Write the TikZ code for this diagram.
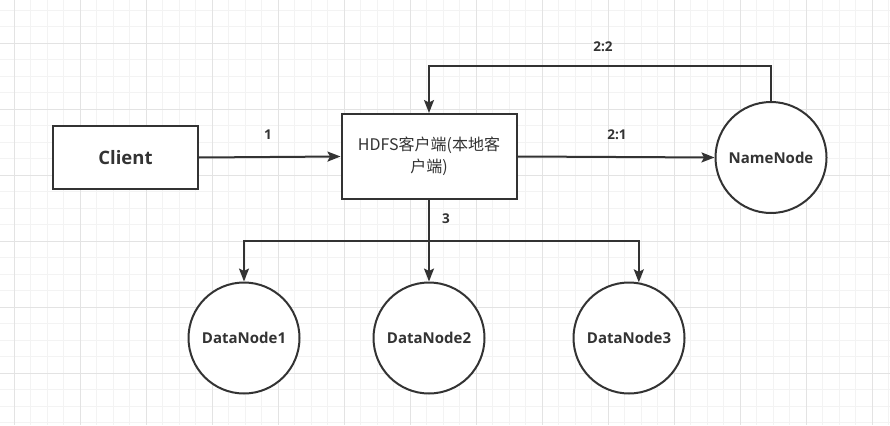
\documentclass[tikz,border=0pt]{standalone}
\usepackage{fontspec}
\setmainfont{Open Sans}
\newfontfamily\cjk{Noto Sans CJK SC}
\usetikzlibrary{arrows.meta}
\definecolor{ink}{HTML}{333333}
\definecolor{gminor}{HTML}{F3F3F3}
\definecolor{gmajor}{HTML}{E3E3E3}
\begin{document}
\begin{tikzpicture}[x=1pt,y=-1pt,
  boxnode/.style={draw=ink, line width=2pt, fill=white, rectangle, inner sep=0pt, text=ink},
  circnode/.style={draw=ink, line width=2pt, fill=white, circle, inner sep=0pt, minimum size=111pt, text=ink, font=\fontsize{15}{18}\selectfont\bfseries},
  wire/.style={draw=ink, line width=2pt},
  conn/.style={wire, -{Stealth[length=13pt,width=10pt,inset=2.5pt]}},
  lab/.style={text=ink, font=\fontsize{13.5}{16}\selectfont\bfseries, inner sep=0pt}
]
\useasboundingbox (0,0) rectangle (890,425);
\fill[white] (0,0) rectangle (890,425);
% grid
\foreach \i in {0,...,54} {\draw[gminor, line width=1pt] ({-2.2+16.5*\i},0) -- ++(0,425);}
\foreach \i in {0,...,25} {\draw[gminor, line width=1pt] (0,{10.3+16.5*\i}) -- ++(890,0);}
\foreach \i in {0,...,13} {\draw[gmajor, line width=1pt] ({14.3+66*\i},0) -- ++(0,425);}
\foreach \i in {0,...,5} {\draw[gmajor, line width=1pt] (0,{43.3+66*\i}) -- ++(890,0);}

% nodes
\node[boxnode, minimum width=145pt, minimum height=63pt, font=\fontsize{18.5}{22}\selectfont\bfseries] (client) at (125.5,157.5) {Client};
\node[boxnode, minimum width=175pt, minimum height=85pt, align=center, font=\cjk\fontsize{16}{22}\selectfont] (hdfs) at (429,156.5) {HDFS客户端(本地客\\户端)};
\node[circnode] (nn) at (771,157.5) {NameNode};
\node[circnode] (d1) at (244,338) {DataNode1};
\node[circnode] (d2) at (429,338) {DataNode2};
\node[circnode] (d3) at (629,338) {DataNode3};

\coordinate (top) at (0,66);
\coordinate (bus) at (0,240.5);

% connectors
\draw[conn] (client.east) -- (hdfs.west);
\draw[conn] (hdfs.east) -- (nn.west);
\draw[conn] (nn.north) |- (hdfs.north |- top) -- (hdfs.north);
\draw[wire] (hdfs.south) -- (hdfs.south |- bus);
\draw[conn] (hdfs.south |- bus) -| (d1.north);
\draw[conn] (hdfs.south |- bus) -- (d2.north);
\draw[conn] (hdfs.south |- bus) -| (d3.80);

% labels
\node[lab] (l1) at (268,135) {1};
\node[lab] (l21) at (617,135) {2:1};
\node[lab] (l22) at (603,47) {2:2};
\node[lab] (l3) at (446,219) {3};
\end{tikzpicture}
\end{document}
